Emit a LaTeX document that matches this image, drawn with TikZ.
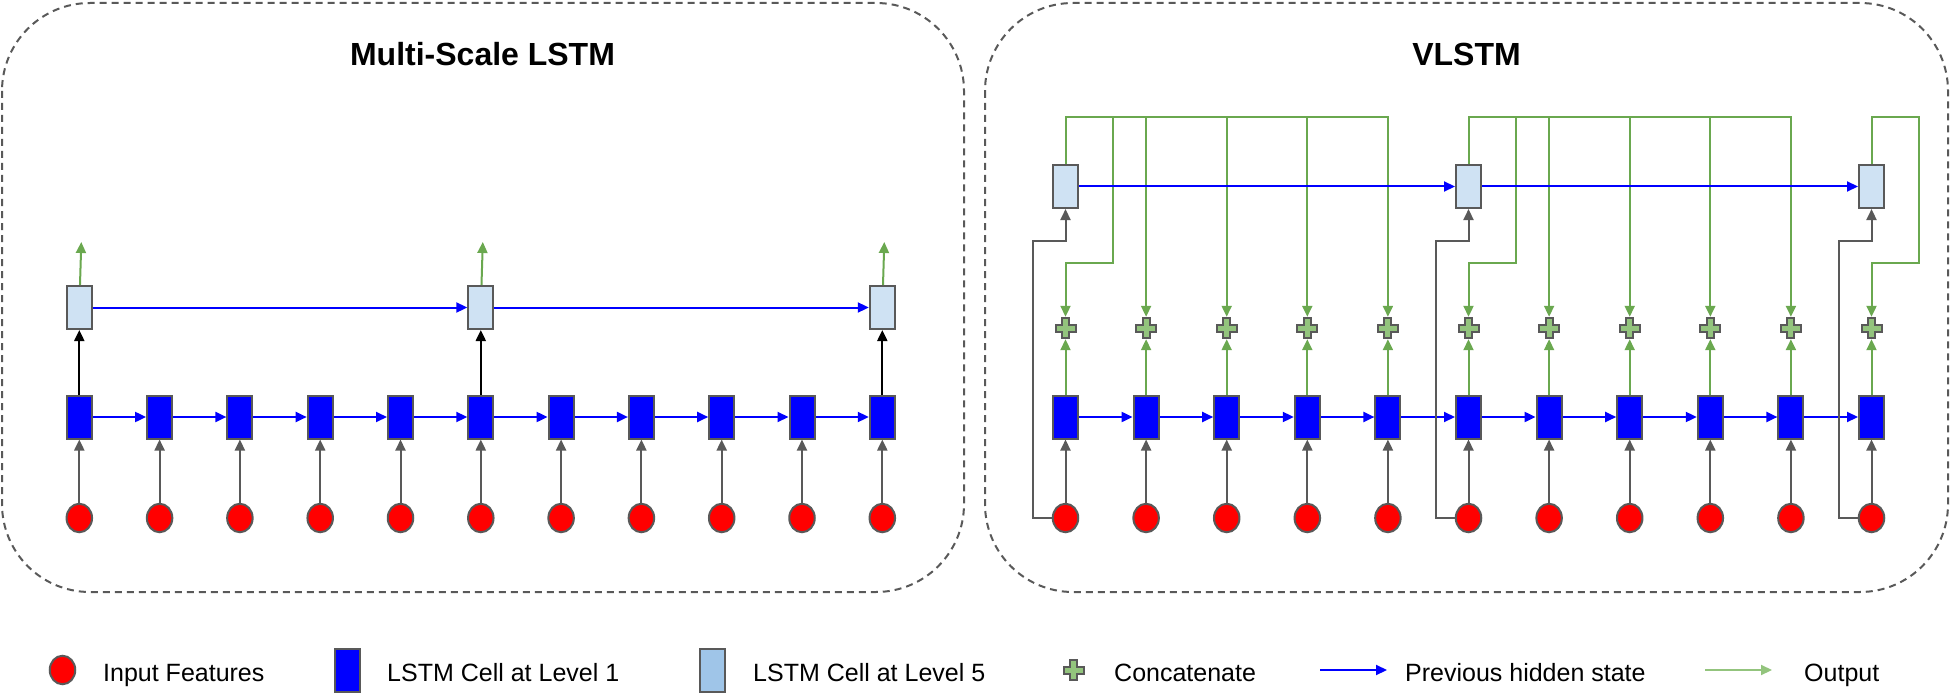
\documentclass[tikz,border=0pt]{standalone}
\usepackage{fontspec}
\setmainfont{Liberation Sans}
\usetikzlibrary{positioning, shapes.geometric, arrows.meta, backgrounds}

\definecolor{edgegray}{HTML}{595959}
\definecolor{cellblue}{HTML}{0000FF}
\definecolor{levelfive}{HTML}{CFE2F3}
\definecolor{legendfive}{HTML}{9FC5E8}
\definecolor{linegreen}{HTML}{6AA84F}
\definecolor{plusgreen}{HTML}{93C47D}

% plus sign drawn on a concat node
\newcommand{\plusat}[1]{%
  \filldraw[draw=edgegray, fill=plusgreen, line width=2pt] ([shift={(-3.5,-10)}]#1.center) -- ++(7,0) -- ++(0,6.5) -- ++(6.5,0) -- ++(0,7) -- ++(-6.5,0) -- ++(0,6.5) -- ++(-7,0) -- ++(0,-6.5) -- ++(-6.5,0) -- ++(0,-7) -- ++(6.5,0) -- cycle;}

\begin{document}
\begin{tikzpicture}[x=1pt, y=-1pt,
        feat/.style={draw=edgegray, ellipse, fill=red, line width=2pt, minimum width=25.5pt, minimum height=28.5pt, inner sep=0pt},
        cell/.style={draw=edgegray, fill=cellblue, line width=2pt, minimum width=25pt, minimum height=43pt, inner sep=0pt},
        topcell/.style={cell, fill=levelfive},
        concat/.style={minimum width=22pt, minimum height=22pt, inner sep=0pt},
        tip/.style={-{Triangle[length=11pt,width=10pt]}, line width=2pt},
        hid/.style={tip, color=cellblue},
        feed/.style={tip, color=edgegray},
        lvlarrow/.style={tip, color=black},
        outarrow/.style={tip, color=linegreen},
        panel/.style={draw=edgegray, line width=2pt, dash pattern=on 7pt off 5pt, rounded corners=88pt},
        paneltitle/.style={font=\fontsize{32pt}{38pt}\selectfont\bfseries},
        legtext/.style={font=\fontsize{25pt}{30pt}\selectfont, anchor=base west, inner sep=0pt}]
    \useasboundingbox (0,0) rectangle (1953,695);

    \begin{scope}[on background layer]
        \draw[panel] (2,3) rectangle (964,592);
        \draw[panel] (985,3) rectangle (1948,592);
    \end{scope}

    \node[paneltitle] (mstitle) at (482.5,54) {Multi-Scale LSTM};
    \node[paneltitle] (vtitle) at (1466.5,54) {VLSTM};

    % Multi-Scale LSTM
    \foreach \i in {0,...,10} {
        \node[feat] (a\i) at (79.3+80.3*\i,518) {};
        \node[cell] (b\i) at (79.3+80.3*\i,417) {};
        \draw[feed] (a\i) -- (b\i);
    }
    \foreach \i [count=\j] in {0,...,9}
        \draw[hid] (b\i) -- (b\j);
    \foreach \i in {0,5,10} {
        \node[topcell] (t\i) at (79.3+80.3*\i,307.5) {};
        \coordinate (o\i) at (81.3+80.3*\i,242);
        \draw[lvlarrow] (b\i) -- (t\i);
        \draw[outarrow] (t\i) -- (o\i);
    }
    \draw[hid] (t0) -- (t5);
    \draw[hid] (t5) -- (t10);

    % VLSTM
    \coordinate (ty) at (0,117);
    \coordinate (jy) at (0,263);
    \coordinate (gy) at (0,241);
    \foreach \i in {0,...,10} {
        \node[feat] (x\i) at (1065.5+80.6*\i,518) {};
        \node[cell] (h\i) at (1065.5+80.6*\i,417) {};
        \node[concat] (c\i) at (1065.5+80.6*\i,328) {};
        \plusat{c\i}
        \draw[feed] (x\i) -- (h\i);
        \draw[outarrow] (h\i) -- (c\i);
    }
    \foreach \i [count=\j] in {0,...,9}
        \draw[hid] (h\i) -- (h\j);
    \foreach \g in {0,5,10} {
        \node[topcell] (v\g) at (1065.5+80.6*\g,186.5) {};
        \draw[feed] (x\g.west) -- ++(-19,0) |- (v\g |- gy) -- (v\g);
        \draw[outarrow] (v\g) -- (v\g |- ty) -- ++(47.5,0) |- (c\g |- jy) -- (c\g);
    }
    \foreach \g in {0,5} {
        \foreach \k in {1,...,4} {
            \pgfmathtruncatemacro{\n}{\g+\k}
            \draw[outarrow] (v\g) -- (v\g |- ty) -| (c\n);
        }
    }
    \draw[hid] (v0) -- (v5);
    \draw[hid] (v5) -- (v10);

    % legend
    \node[feat] (lfeat) at (62.5,670) {};
    \node[legtext] (lfeattext) at (103,681) {Input Features};
    \node[cell] (lcell) at (347,670) {};
    \node[legtext] (lcelltext) at (387,681) {LSTM Cell at Level 1};
    \node[cell, fill=legendfive] (lfive) at (712.5,670) {};
    \node[legtext] (lfivetext) at (753,681) {LSTM Cell at Level 5};
    \node[concat] (lcat) at (1073.5,670) {};
    \plusat{lcat}
    \node[legtext] (lcattext) at (1114,681) {Concatenate};
    \coordinate (lhida) at (1320,670);
    \coordinate (lhidb) at (1387,670);
    \draw[hid] (lhida) -- (lhidb);
    \node[legtext] (lhidtext) at (1405,681) {Previous hidden state};
    \coordinate (louta) at (1705,670);
    \coordinate (loutb) at (1772,670);
    \draw[outarrow, color=plusgreen] (louta) -- (loutb);
    \node[legtext] (louttext) at (1804,681) {Output};
\end{tikzpicture}
\end{document}
